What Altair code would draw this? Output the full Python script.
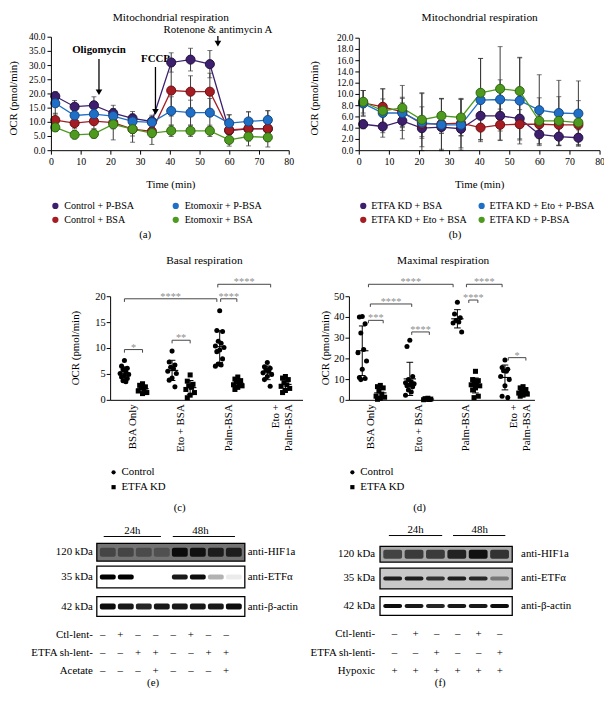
import altair as alt
import numpy as np
import pandas as pd

FONT = "Liberation Serif"
M = 8  # page margin: layout numbers below are page pixels

# ====================== DATA ======================
times = [1.3, 7.8, 14.3, 20.8, 27.3, 33.8, 40.3, 46.8, 53.3, 59.8, 66.3, 72.8]
time_ticks = [0, 10, 20, 30, 40, 50, 60, 70, 80]

# (a)
a_series = ["Control + P-BSA", "Control + BSA", "Etomoxir + P-BSA", "Etomoxir + BSA"]
a_ctl_pbsa = [19.2, 15.5, 16.0, 13.2, 11.4, 10.3, 31.1, 32.1, 30.5, 7.1, 7.7, 7.7]
a_ctl_pbsa_sd = [1.6, 2.2, 3.0, 2.8, 2.4, 2.2, 3.4, 4.0, 4.8, 5.5, 6.0, 6.4]
a_ctl_bsa = [10.8, 9.7, 10.4, 9.9, 7.6, 6.8, 21.2, 20.8, 20.8, 7.3, 7.8, 7.8]
a_ctl_bsa_sd = [2.4, 2.0, 2.6, 2.2, 2.4, 2.0, 9.0, 5.6, 6.5, 3.0, 3.4, 3.4]
a_eto_pbsa = [16.7, 12.4, 12.9, 12.2, 10.3, 10.0, 14.0, 13.4, 13.4, 9.7, 10.3, 10.8]
a_eto_pbsa_sd = [3.8, 3.0, 3.4, 2.6, 2.6, 2.0, 5.0, 4.4, 5.0, 3.0, 3.4, 3.3]
a_eto_bsa = [8.2, 5.6, 5.9, 9.3, 7.6, 6.2, 7.0, 7.0, 7.0, 3.8, 5.0, 4.7]
a_eto_bsa_sd = [1.4, 1.4, 1.5, 5.5, 4.6, 4.0, 2.0, 2.0, 2.0, 1.0, 1.6, 1.5]
a_yticks = [0, 5, 10, 15, 20, 25, 30, 35, 40]

# (b)
b_series = ["ETFA KD + BSA", "ETFA KD + Eto + BSA", "ETFA KD + Eto + P-BSA", "ETFA KD + P-BSA"]
b_kd_bsa = [4.7, 4.3, 5.3, 4.0, 4.2, 3.9, 6.2, 6.2, 5.7, 2.9, 2.5, 2.3]
b_kd_bsa_sd = [0.8, 1.9, 3.2, 1.5, 1.1, 1.2, 4.2, 4.3, 3.8, 1.7, 1.6, 1.4]
b_kd_eto_bsa = [8.5, 7.8, 6.9, 4.75, 4.75, 4.9, 4.1, 4.6, 4.7, 4.7, 4.6, 4.6]
b_kd_eto_bsa_sd = [2.2, 3.2, 2.6, 5.4, 4.5, 4.4, 2.2, 2.8, 2.6, 1.6, 1.8, 1.6]
b_kd_eto_pbsa = [8.4, 6.7, 6.7, 5.0, 4.6, 4.6, 9.0, 9.1, 8.9, 7.2, 6.7, 6.6]
b_kd_eto_pbsa_sd = [2.3, 2.5, 2.6, 2.8, 4.6, 4.5, 7.4, 3.5, 7.7, 6.3, 5.8, 5.8]
b_kd_pbsa = [8.7, 7.1, 7.6, 5.5, 6.2, 5.9, 10.3, 11.0, 10.6, 5.3, 5.3, 5.0]
b_kd_pbsa_sd = [2.0, 3.9, 4.0, 4.8, 3.1, 3.3, 6.1, 7.5, 5.9, 4.1, 4.3, 3.9]
b_yticks = [0, 2, 4, 6, 8, 10, 12, 14, 16, 18, 20]

# (c) / (d) categories
cats = ["BSA Only", "Eto + BSA", "Palm-BSA", "Eto +\nPalm-BSA"]
groups = ["Control", "ETFA KD"]

# (c) basal respiration
c_bsa_ctrl = [7.7, 6.6, 6.2, 5.9, 5.5, 5.2, 5.0, 4.8, 4.5, 4.2, 3.8, 3.6]
c_bsa_kd = [3.2, 2.9, 2.6, 2.4, 2.2, 1.8, 1.5, 1.3]
c_eto_ctrl = [9.5, 7.4, 6.8, 6.4, 6.1, 5.6, 5.2, 4.3, 3.9, 2.6]
c_eto_kd = [4.9, 3.7, 3.1, 2.8, 2.5, 2.1, 1.5, 1.0, 0.5]
c_palm_ctrl = [17.3, 13.5, 13.3, 11.4, 11.0, 10.5, 10.2, 9.7, 9.4, 8.0, 7.0, 6.8, 6.6]
c_palm_kd = [4.5, 4.1, 3.8, 3.5, 3.3, 3.0, 2.8, 2.5, 2.1]
c_etopalm_ctrl = [7.3, 6.5, 6.2, 5.9, 5.6, 5.3, 5.0, 4.6, 4.0, 2.7]
c_etopalm_kd = [4.6, 4.3, 4.0, 3.4, 3.0, 2.7, 2.3, 1.9, 1.5]
c_yticks = [0, 5, 10, 15, 20]
c_brackets = [(-0.19, 0.19, 9.8, "*"), (0.81, 1.19, 11.6, "**"), (-0.19, 1.75, 19.6, "****"),
              (1.83, 2.17, 19.6, "****"), (1.77, 2.88, 22.4, "****")]

# (d) maximal respiration
d_bsa_ctrl = [40.5, 40.2, 37.0, 32.5, 24.5, 23.0, 19.0, 15.0, 11.0, 10.5, 10.0]
d_bsa_kd = [7.2, 6.6, 6.0, 4.5, 3.0, 2.0, 1.5, 1.0, 0.5]
d_eto_ctrl = [29.0, 26.0, 11.5, 10.0, 9.0, 8.5, 8.0, 7.5, 7.0, 6.5, 5.0, 4.0, 2.5]
d_eto_kd = [1.0, 0.8, 0.6, 0.5, 0.4, 0.3]
d_palm_ctrl = [47.3, 41.7, 39.8, 38.5, 37.8, 37.3, 33.0]
d_palm_kd = [14.0, 10.0, 9.5, 8.5, 8.0, 7.5, 7.0, 6.0, 5.0, 2.0, 1.3]
d_etopalm_ctrl = [19.5, 15.8, 15.0, 14.3, 14.0, 11.5, 10.0, 7.0, 2.0, 1.3]
d_etopalm_kd = [6.6, 6.0, 5.2, 4.5, 4.0, 3.5, 3.0, 2.5, 2.0]
d_yticks = [0, 10, 20, 30, 40, 50]
d_brackets = [(-0.06, 0.25, 38.6, "***"), (-0.02, 0.85, 46.5, "****"), (0.85, 1.22, 33.0, "****"),
              (2.05, 2.24, 48.4, "****"), (2.88, 3.25, 20.6, "*"), (-0.06, 1.72, 56.0, "****"),
              (2.0, 2.75, 56.0, "****")]

# (e) western blot band intensities (0 = none, 1 = black)
e_hif1a = [0.4, 0.4, 0.35, 0.3, 0.9, 0.85, 0.75, 0.75]
e_etfa = [1.0, 1.0, 0.0, 0.0, 0.9, 0.95, 0.3, 0.08]
e_actin = [0.95, 0.9, 0.85, 0.9, 0.9, 0.9, 0.9, 0.95]
e_ctl = ["–", "+", "–", "–", "–", "+", "–", "–"]
e_sh = ["–", "–", "+", "+", "–", "–", "+", "+"]
e_acetate = ["–", "–", "–", "+", "–", "–", "–", "+"]

# (f)
f_hif1a = [0.6, 0.65, 0.65, 0.8, 0.9, 0.7]
f_etfa = [0.85, 0.85, 0.75, 0.85, 0.8, 0.4]
f_actin = [0.95, 0.9, 0.85, 0.9, 0.9, 0.95]
f_ctl = ["–", "+", "–", "–", "+", "–"]
f_sh = ["–", "–", "+", "–", "–", "+"]
f_hyp = ["+", "+", "+", "+", "+", "+"]

COLORS = ["#3d1f6e", "#a51d22", "#1f6fc6", "#4e9a1e"]
DARKS = ["#22103f", "#6a1014", "#134782", "#2f6411"]

FS = 11
FS_LEG = 10.2
FS_TITLE = 11.5
FS_TICK = 9.5


# ====================== HELPERS ======================
def P(v):
    return v - M


def texts(items, size=FS, align="center", baseline="middle", angle=0, weight="normal",
          color="black", style="normal"):
    df = pd.DataFrame(items, columns=["x", "y", "t"])
    df["x"] = df["x"] - M
    df["y"] = df["y"] - M
    return alt.Chart(df).mark_text(font=FONT, fontSize=size, align=align, baseline=baseline,
                                   angle=angle, fontWeight=weight, color=color, fontStyle=style,
                                   lineBreak="\n").encode(
        x=alt.X("x:Q", scale=None, axis=None), y=alt.Y("y:Q", scale=None, axis=None), text="t:N")


def segs(lst, color="black", width=1.0):
    df = pd.DataFrame(lst, columns=["xa", "ya", "xb", "yb"]) - M
    return alt.Chart(df).mark_rule(color=color, strokeWidth=width).encode(
        x=alt.X("xa:Q", scale=None, axis=None), y=alt.Y("ya:Q", scale=None, axis=None),
        x2="xb:Q", y2="yb:Q")


def lin(dom, r0, r1):
    return alt.Scale(domain=dom, range=[P(r0), P(r1)], nice=False, zero=False)


def y_axis(ys, x0, ticks, fmt, gap, size=FS_TICK):
    dft = pd.DataFrame({"v": ticks})
    tk = alt.Chart(dft).mark_rule(color="black", strokeWidth=1).encode(
        y=alt.Y("v:Q", scale=ys, axis=None), x=alt.value(P(x0) - 4), x2=alt.value(P(x0)))
    lb = alt.Chart(dft).mark_text(font=FONT, fontSize=size, align="right", baseline="middle").encode(
        y=alt.Y("v:Q", scale=ys, axis=None), x=alt.value(P(x0) - gap), text=alt.Text("v:Q", format=fmt))
    return [tk, lb]


def x_axis(xs, ybot, ticks, fmt):
    dft = pd.DataFrame({"v": ticks})
    tk = alt.Chart(dft).mark_rule(color="black", strokeWidth=1).encode(
        x=alt.X("v:Q", scale=xs, axis=None), y=alt.value(P(ybot)), y2=alt.value(P(ybot) + 4))
    lb = alt.Chart(dft).mark_text(font=FONT, fontSize=FS_TICK + 0.5, align="center", baseline="top").encode(
        x=alt.X("v:Q", scale=xs, axis=None), y=alt.value(P(ybot) + 7), text=alt.Text("v:Q", format=fmt))
    return [tk, lb]


def line_panel(series, means, sds, x0, x1, ytop, ybot, ymax, yticks):
    rows = []
    for name, m, s in zip(series, means, sds):
        for t, v, e in zip(times, m, s):
            rows.append({"series": name, "t": t, "v": v, "lo": max(v - e, 0.0), "hi": v + e})
    df = pd.DataFrame(rows)
    xs = lin([0, 80], x0, x1)
    ys = lin([0, ymax], ybot, ytop)
    cs = alt.Scale(domain=series, range=COLORS)
    ds = alt.Scale(domain=series, range=DARKS)
    X = alt.X("t:Q", scale=xs, axis=None)
    base = alt.Chart(df)
    err = base.mark_rule(color="#3a3a3a", strokeWidth=1).encode(
        X, y=alt.Y("lo:Q", scale=ys, axis=None), y2="hi:Q")
    cap_hi = base.mark_tick(orient="horizontal", color="#3a3a3a", size=5, thickness=1).encode(
        X, y=alt.Y("hi:Q", scale=ys, axis=None))
    cap_lo = base.mark_tick(orient="horizontal", color="#3a3a3a", size=5, thickness=1).encode(
        X, y=alt.Y("lo:Q", scale=ys, axis=None))
    line = base.mark_line(strokeWidth=1.3).encode(
        X, y=alt.Y("v:Q", scale=ys, axis=None), color=alt.Color("series:N", scale=cs, legend=None))
    pts = base.mark_point(filled=True, size=85, strokeWidth=1, opacity=1).encode(
        X, y=alt.Y("v:Q", scale=ys, axis=None),
        fill=alt.Fill("series:N", scale=cs, legend=None),
        stroke=alt.Stroke("series:N", scale=ds, legend=None))
    out = [err, cap_hi, cap_lo, line, pts]
    out.append(segs([(x0, ytop, x0, ybot), (x0, ybot, x1, ybot)]))
    out += y_axis(ys, x0, yticks, ".1f", 6)
    out += x_axis(xs, ybot, time_ticks, "d")
    return out, xs, ys


def legend(series, colors, positions, tx_gap=9):
    df = pd.DataFrame({"name": series,
                       "x": [p[0] - M for p in positions],
                       "y": [p[1] - M for p in positions]})
    df["xt"] = df["x"] + tx_gap
    cs = alt.Scale(domain=series, range=colors)
    dots = alt.Chart(df).mark_point(filled=True, size=40, opacity=1, shape="circle").encode(
        x=alt.X("x:Q", scale=None, axis=None), y=alt.Y("y:Q", scale=None, axis=None),
        color=alt.Color("name:N", scale=cs, legend=None))
    labs = alt.Chart(df).mark_text(font=FONT, fontSize=FS_LEG, align="left", baseline="middle").encode(
        x=alt.X("xt:Q", scale=None, axis=None), y=alt.Y("y:Q", scale=None, axis=None), text="name:N")
    return [dots, labs]


def dot_panel(ctrl_groups, kd_groups, x0, x1, ytop, ybot, xdom, ymax, yticks, brackets, drop):
    xs = lin(xdom, x0, x1)
    ys = lin([0, ymax], ybot, ytop)
    jit = [0.0, -0.06, 0.06, -0.03, 0.03, -0.09, 0.09]
    rows, stats = [], []
    for i, (gc, gk) in enumerate(zip(ctrl_groups, kd_groups)):
        for grp, vals, off in ((groups[0], gc, -0.19), (groups[1], gk, 0.19)):
            xc = i + off
            for j, v in enumerate(sorted(vals, reverse=True)):
                rows.append({"grp": grp, "x": xc + jit[j % len(jit)], "v": v})
            a = np.array(vals, dtype=float)
            mu, sd = a.mean(), a.std(ddof=1)
            stats.append({"xc": xc, "mu": mu, "lo": mu - sd, "hi": mu + sd,
                          "ml": xc - 0.13, "mr": xc + 0.13, "cl": xc - 0.07, "cr": xc + 0.07})
    df = pd.DataFrame(rows)
    st = pd.DataFrame(stats)
    shp = alt.Scale(domain=groups, range=["circle", "square"])
    pts = alt.Chart(df).mark_point(filled=True, size=26, color="black", opacity=1).encode(
        x=alt.X("x:Q", scale=xs, axis=None), y=alt.Y("v:Q", scale=ys, axis=None),
        shape=alt.Shape("grp:N", scale=shp, legend=None))
    sb = alt.Chart(st)
    mean_r = sb.mark_rule(color="black", strokeWidth=1.1).encode(
        x=alt.X("ml:Q", scale=xs, axis=None), x2="mr:Q", y=alt.Y("mu:Q", scale=ys, axis=None))
    sd_r = sb.mark_rule(color="black", strokeWidth=1).encode(
        x=alt.X("xc:Q", scale=xs, axis=None), y=alt.Y("lo:Q", scale=ys, axis=None), y2="hi:Q")
    cap1 = sb.mark_rule(color="black", strokeWidth=1).encode(
        x=alt.X("cl:Q", scale=xs, axis=None), x2="cr:Q", y=alt.Y("hi:Q", scale=ys, axis=None))
    cap2 = sb.mark_rule(color="black", strokeWidth=1).encode(
        x=alt.X("cl:Q", scale=xs, axis=None), x2="cr:Q", y=alt.Y("lo:Q", scale=ys, axis=None))
    br = pd.DataFrame(brackets, columns=["x1", "x2", "y", "lab"])
    br["yd"] = br["y"] - drop
    br["xm"] = (br["x1"] + br["x2"]) / 2
    bb = alt.Chart(br)
    hl = bb.mark_rule(color="#444", strokeWidth=1).encode(
        x=alt.X("x1:Q", scale=xs, axis=None), x2="x2:Q", y=alt.Y("y:Q", scale=ys, axis=None))
    e1 = bb.mark_rule(color="#444", strokeWidth=1).encode(
        x=alt.X("x1:Q", scale=xs, axis=None), y=alt.Y("yd:Q", scale=ys, axis=None), y2="y:Q")
    e2 = bb.mark_rule(color="#444", strokeWidth=1).encode(
        x=alt.X("x2:Q", scale=xs, axis=None), y=alt.Y("yd:Q", scale=ys, axis=None), y2="y:Q")
    st_txt = bb.mark_text(font=FONT, fontSize=10.5, color="#8f8f8f", baseline="bottom", dy=3).encode(
        x=alt.X("xm:Q", scale=xs, axis=None), y=alt.Y("y:Q", scale=ys, axis=None), text="lab:N")
    cdf = pd.DataFrame({"i": list(range(len(cats))), "c": cats})
    clab = alt.Chart(cdf).mark_text(font=FONT, fontSize=11, angle=270, align="right",
                                    baseline="middle", lineBreak="\n").encode(
        x=alt.X("i:Q", scale=xs, axis=None), y=alt.value(P(ybot) + 4), text="c:N")
    out = [sd_r, cap1, cap2, mean_r, pts, hl, e1, e2, st_txt, clab]
    out.append(segs([(x0, ytop, x0, ybot), (x0, ybot, x1, ybot)]))
    out += y_axis(ys, x0, yticks, "d", 5, size=10.5)
    return out


def small_legend(x, y1, y2):
    df = pd.DataFrame({"g": groups, "x": [x - M, x - M], "y": [y1 - M, y2 - M]})
    df["xt"] = df["x"] + 8
    shp = alt.Scale(domain=groups, range=["circle", "square"])
    m = alt.Chart(df).mark_point(filled=True, size=18, color="black", opacity=1).encode(
        x=alt.X("x:Q", scale=None, axis=None), y=alt.Y("y:Q", scale=None, axis=None),
        shape=alt.Shape("g:N", scale=shp, legend=None))
    t = alt.Chart(df).mark_text(font=FONT, fontSize=FS, align="left", baseline="middle").encode(
        x=alt.X("xt:Q", scale=None, axis=None), y=alt.Y("y:Q", scale=None, axis=None), text="g:N")
    return [m, t]


def blot(x0, x1, rows, sign_rows, sign_range, kda_right, ab_left):
    out = []
    n = len(rows[0][4])
    boxes = []
    for (ytop, ybot, bg, bh, vals, kda, ab) in rows:
        boxes.append({"xa": x0 - M, "xb": x1 - M, "ya": ytop - M, "yb": ybot - M, "bg": bg})
    bdf = pd.DataFrame(boxes)
    out.append(alt.Chart(bdf).mark_rect(stroke="black", strokeWidth=1.3).encode(
        x=alt.X("xa:Q", scale=None, axis=None), x2="xb:Q",
        y=alt.Y("ya:Q", scale=None, axis=None), y2="yb:Q",
        fill=alt.Fill("bg:N", scale=None, legend=None)))
    lane_scale = alt.Scale(range=[P(x0 + 2), P(x1 - 2)], paddingInner=0.12, paddingOuter=0.06)
    for (ytop, ybot, bg, bh, vals, kda, ab) in rows:
        yc = (ytop + ybot) / 2
        df = pd.DataFrame({"lane": list(range(1, n + 1)), "inten": vals})
        out.append(alt.Chart(df).mark_rect(color="black", cornerRadius=2).encode(
            x=alt.X("lane:O", scale=lane_scale, axis=None),
            y=alt.value(P(yc - bh / 2)), y2=alt.value(P(yc + bh / 2)),
            opacity=alt.Opacity("inten:Q", scale=alt.Scale(domain=[0, 1], range=[0, 1]), legend=None)))
        out.append(texts([(kda_right, yc, kda)], size=11, align="right"))
        out.append(texts([(ab_left, yc, ab)], size=11, align="left"))
    sscale = alt.Scale(range=[P(sign_range[0]), P(sign_range[1])], paddingInner=0, paddingOuter=0)
    for (label, signs, y) in sign_rows:
        df = pd.DataFrame({"lane": list(range(1, n + 1)), "s": signs})
        out.append(alt.Chart(df).mark_text(font=FONT, fontSize=11, baseline="middle").encode(
            x=alt.X("lane:O", scale=sscale, axis=None), y=alt.value(P(y)), text="s:N"))
        out.append(texts([(kda_right, y, label)], size=11, align="right"))
    return out


# ====================== BUILD ======================
layers = []

# ---- (a)
la, xs_a, ys_a = line_panel(a_series, [a_ctl_pbsa, a_ctl_bsa, a_eto_pbsa, a_eto_bsa],
                            [a_ctl_pbsa_sd, a_ctl_bsa_sd, a_eto_pbsa_sd, a_eto_bsa_sd],
                            52, 293, 33, 148, 40, a_yticks)
layers += la
# arrows (data coordinates: time, OCR)
arr = pd.DataFrame({"t": [16.0, 35.0, 56.0], "y1": [32.3, 29.5, 40.4], "y2": [20.5, 13.6, 37.6],
                    "head": [20.6, 13.7, 37.7]})
layers.append(alt.Chart(arr).mark_rule(color="black", strokeWidth=1.3).encode(
    x=alt.X("t:Q", scale=xs_a, axis=None), y=alt.Y("y1:Q", scale=ys_a, axis=None), y2="y2:Q"))
layers.append(alt.Chart(arr).mark_point(shape="triangle-down", filled=True, size=45, color="black",
                                        opacity=1).encode(
    x=alt.X("t:Q", scale=xs_a, axis=None), y=alt.Y("head:Q", scale=ys_a, axis=None)))
ann = pd.DataFrame({"t": [16.0, 35.0], "v": [35.6, 32.2], "s": ["Oligomycin", "FCCP"]})
layers.append(alt.Chart(ann).mark_text(font=FONT, fontSize=FS, fontWeight="bold").encode(
    x=alt.X("t:Q", scale=xs_a, axis=None), y=alt.Y("v:Q", scale=ys_a, axis=None), text="s:N"))
ann2 = pd.DataFrame({"t": [56.0], "v": [42.5], "s": ["Rotenone & antimycin A"]})
layers.append(alt.Chart(ann2).mark_text(font=FONT, fontSize=FS).encode(
    x=alt.X("t:Q", scale=xs_a, axis=None), y=alt.Y("v:Q", scale=ys_a, axis=None), text="s:N"))
layers += legend(a_series, COLORS, [(56, 204), (56, 218), (178, 204), (178, 218)])

# ---- (b)
lb_, _, _ = line_panel(b_series, [b_kd_bsa, b_kd_eto_bsa, b_kd_eto_pbsa, b_kd_pbsa],
                       [b_kd_bsa_sd, b_kd_eto_bsa_sd, b_kd_eto_pbsa_sd, b_kd_pbsa_sd],
                       364, 608, 34, 148, 20, b_yticks)
layers += lb_
layers += legend(b_series, COLORS, [(368, 204), (368, 218), (488, 204), (488, 218)], tx_gap=8)

# ---- (c)
layers += dot_panel([c_bsa_ctrl, c_eto_ctrl, c_palm_ctrl, c_etopalm_ctrl],
                    [c_bsa_kd, c_eto_kd, c_palm_kd, c_etopalm_kd],
                    112, 307, 296, 401, [-0.48, 3.56], 20, c_yticks, c_brackets, 0.6)
layers += small_legend(115, 474, 489)

# ---- (d)
layers += dot_panel([d_bsa_ctrl, d_eto_ctrl, d_palm_ctrl, d_etopalm_ctrl],
                    [d_bsa_kd, d_eto_kd, d_palm_kd, d_etopalm_kd],
                    354, 542, 296, 401, [-0.46, 3.44], 50, d_yticks, d_brackets, 1.4)
layers += small_legend(357, 474, 489)

# ---- titles, axis titles, panel labels
layers.append(texts([(173, 14, "Mitochondrial respiration"), (486, 14, "Mitochondrial respiration"),
                     (207, 260, "Basal respiration"), (449, 260, "Maximal respiration")],
                    size=FS_TITLE))
layers.append(texts([(173, 183, "Time (min)"), (486, 183, "Time (min)"),
                     (147, 233, "(a)"), (461, 233, "(b)"), (182, 510, "(c)"), (425, 510, "(d)"),
                     (155, 688, "(e)"), (446, 688, "(f)")]))
layers.append(texts([(14, 95, "OCR (pmol/min)"), (319, 95, "OCR (pmol/min)"),
                     (77, 348, "OCR (pmol/min)"), (330, 348, "OCR (pmol/min)")], angle=270))

# ---- (e) blot
layers += blot(98, 248,
               [(546, 564, "#737373", 9, e_hif1a, "120 kDa", "anti-HIF1a"),
                (569, 591, "#ffffff", 5, e_etfa, "35 kDa", "anti-ETFα"),
                (600, 620, "#ffffff", 6, e_actin, "42 kDa", "anti-β-actin")],
               [("Ctl-lent-", e_ctl, 639), ("ETFA sh-lent-", e_sh, 657), ("Acetate", e_acetate, 675)],
               (95, 238), 94, 251)
layers.append(texts([(134, 533, "24h"), (203, 533, "48h")], size=11))
layers.append(segs([(105, 539, 163, 539), (175, 539, 238, 539)]))

# ---- (f) blot
layers += blot(385, 519,
               [(549, 565, "#a9a9a9", 9, f_hif1a, "120 kDa", "anti-HIF1a"),
                (571, 592, "#c8c8c8", 4, f_etfa, "35 kDa", "anti-ETFα"),
                (600, 619, "#ffffff", 4, f_actin, "42 kDa", "anti-β-actin")],
               [("Ctl-lenti-", f_ctl, 638), ("ETFA sh-lenti-", f_sh, 657), ("Hypoxic", f_hyp, 675)],
               (389, 517), 380, 528)
layers.append(texts([(421, 532, "24h"), (486, 532, "48h")], size=11))
layers.append(segs([(394, 538, 448, 538), (459, 538, 512, 538)]))

chart = alt.layer(*layers).resolve_scale(
    x="independent", y="independent", color="independent", fill="independent",
    stroke="independent", shape="independent", opacity="independent"
).properties(
    width=604, height=685, autosize=alt.AutoSizeParams(type="none"), padding=0
).configure(font=FONT, background="white").configure_view(stroke=None)

chart.save("out.html", embed_options={"renderer": "svg", "actions": False})
